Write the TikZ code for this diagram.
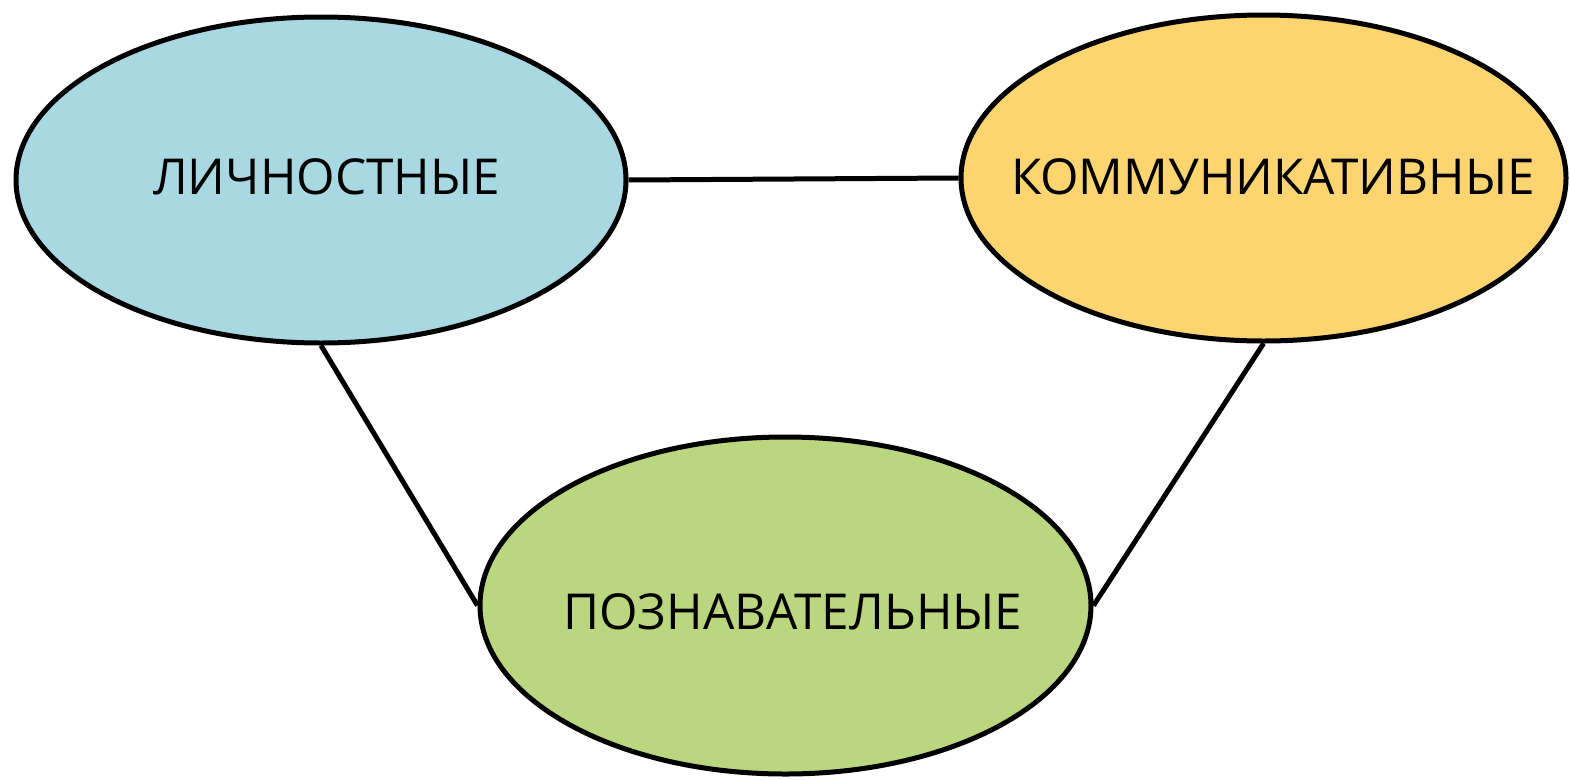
\documentclass[tikz,border=0pt]{standalone}
\usepackage{fontspec}
\setmainfont{Open Sans}
\usetikzlibrary{shapes.geometric}
\definecolor{cblue}{HTML}{A8D8E2}
\definecolor{cyellow}{HTML}{FCD570}
\definecolor{cgreen}{HTML}{BAD67E}
\tikzset{
  blob/.style={ellipse, draw=black, line width=5pt, inner sep=0pt},
  lbl/.style={font=\fontsize{49.5}{58}\selectfont, inner sep=0pt, anchor=center},
  link/.style={draw=black, line width=5pt}
}
\begin{document}
\begin{tikzpicture}[x=1pt,y=-1pt]
\useasboundingbox (0,0) rectangle (1570,779);
\node[blob, fill=cblue, minimum width=610pt, minimum height=326pt] (e1) at (321,180) {};
\node[blob, fill=cyellow, minimum width=605pt, minimum height=326pt] (e2) at (1263.5,178) {};
\node[blob, fill=cgreen, minimum width=611pt, minimum height=337pt] (e3) at (785.5,605.5) {};
\node[lbl] (t1) at (326.5,177) {ЛИЧНОСТНЫЕ};
\node[lbl] (t2) at (1273,177) {КОММУНИКАТИВНЫЕ};
\node[lbl] (t3) at (793,612) {ПОЗНАВАТЕЛЬНЫЕ};
\draw[link] (e1.east) -- (e2.west);
\draw[link] (e1.south) -- (e3.west);
\draw[link] (e2.south) -- (e3.east);
\end{tikzpicture}
\end{document}
